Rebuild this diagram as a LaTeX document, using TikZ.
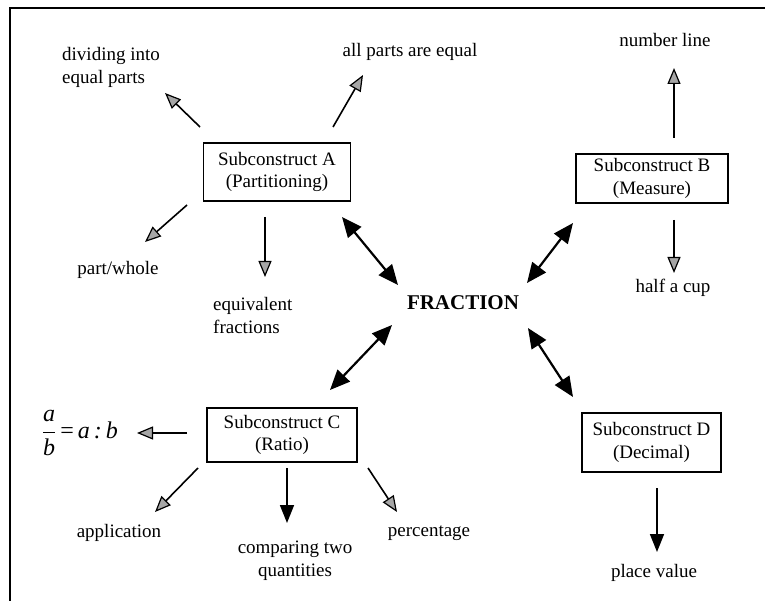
\documentclass[tikz,border=0pt]{standalone}
\usepackage{fontspec}
\setmainfont{Liberation Serif}
\usetikzlibrary{arrows.meta}
\begin{document}
\begin{tikzpicture}[x=1pt,y=-1pt,
  box/.style={draw, line width=1.6pt, inner sep=0pt, align=center, font=\fontsize{19}{22.5}\selectfont},
  lbl/.style={inner sep=0pt, font=\fontsize{19}{23}\selectfont},
  garrow/.style={line width=1.6pt, -{Triangle[length=16pt,width=13pt,fill=gray!70,line width=1.2pt]}},
  barrow/.style={line width=1.7pt, -{Triangle[length=18pt,width=14pt]}},
  darrow/.style={line width=2.2pt, {Triangle[length=20pt,width=17pt]}-{Triangle[length=20pt,width=17pt]}},
  frame/.style={line width=2.8pt}
]
\fill[white] (0,0) rectangle (765,601);
\useasboundingbox (0,0) rectangle (765,601);
% frame (top and left edges)
\coordinate (fl) at (10,601);
\coordinate (fc) at (10,8);
\coordinate (fr) at (765,8);
\draw[frame] (fl) -- (fc) -- (fr);

% boxes
\node[box, minimum width=147pt, minimum height=58pt] (A) at (277,172) {Subconstruct A\\(Partitioning)};
\node[box, minimum width=152pt, minimum height=49pt] (B) at (652,178.5) {Subconstruct B\\(Measure)};
\node[box, minimum width=150pt, minimum height=54pt] (C) at (282,435) {Subconstruct C\\(Ratio)};
\node[box, minimum width=139pt, minimum height=59pt] (D) at (651.5,442.5) {Subconstruct D\\(Decimal)};
\node[inner sep=0pt, font=\fontsize{21}{24}\selectfont\bfseries] (F) at (463,303) {FRACTION};

% labels
\node[lbl, align=left, anchor=west] (div) at (62,67) {dividing into\\equal parts};
\node[lbl] (allp) at (410,52) {all parts are equal};
\node[lbl] (num) at (665,40) {number line};
\node[lbl] (pw) at (118,270) {part/whole};
\node[lbl, align=left, anchor=west] (equiv) at (213,316) {equivalent\\fractions};
\node[lbl] (half) at (673,288) {half a cup};
\node[inner sep=0pt, font=\fontsize{24}{28}\selectfont] (ab) at (80,433) {$\displaystyle\frac{\hbox{\itshape a}}{\hbox{\itshape b}}$\,=\,\itshape a\,:\,b};
\node[lbl] (app) at (119,533) {application};
\node[lbl, align=center] (comp) at (295,561) {comparing two\\quantities};
\node[lbl] (perc) at (429,533) {percentage};
\node[lbl] (place) at (654,573) {place value};

% connector end points
\coordinate (a1s) at (200,127); \coordinate (a1e) at (165,93);
\coordinate (a2s) at (333,127); \coordinate (a2e) at (363,75);
\coordinate (a3s) at (187,205); \coordinate (a3e) at (145,242);
\coordinate (a4s) at (265,217); \coordinate (a4e) at (265,277);
\coordinate (b1s) at (674,138); \coordinate (b1e) at (674,68);
\coordinate (b2s) at (674,220); \coordinate (b2e) at (674,273);
\coordinate (faA) at (398,285); \coordinate (faAb) at (342,217);
\coordinate (fbF) at (527,283); \coordinate (fbB) at (573,223);
\coordinate (fcF) at (392,325); \coordinate (fcC) at (330,390);
\coordinate (fdF) at (528,328); \coordinate (fdD) at (573,397);
\coordinate (c1s) at (187,433); \coordinate (c1e) at (137,433);
\coordinate (c2s) at (198,468); \coordinate (c2e) at (155,512);
\coordinate (c3s) at (287,468); \coordinate (c3e) at (287,523);
\coordinate (c4s) at (368,468); \coordinate (c4e) at (397,512);
\coordinate (d1s) at (657,488); \coordinate (d1e) at (657,552);

% connectors
\draw[garrow] (a1s) -- (a1e);
\draw[garrow] (a2s) -- (a2e);
\draw[garrow] (a3s) -- (a3e);
\draw[garrow] (a4s) -- (a4e);
\draw[garrow] (b1s) -- (b1e);
\draw[garrow] (b2s) -- (b2e);
\draw[darrow] (faAb) -- (faA);
\draw[darrow] (fbF) -- (fbB);
\draw[darrow] (fcF) -- (fcC);
\draw[darrow] (fdF) -- (fdD);
\draw[garrow] (c1s) -- (c1e);
\draw[garrow] (c2s) -- (c2e);
\draw[barrow] (c3s) -- (c3e);
\draw[garrow] (c4s) -- (c4e);
\draw[barrow] (d1s) -- (d1e);
\end{tikzpicture}
\end{document}
